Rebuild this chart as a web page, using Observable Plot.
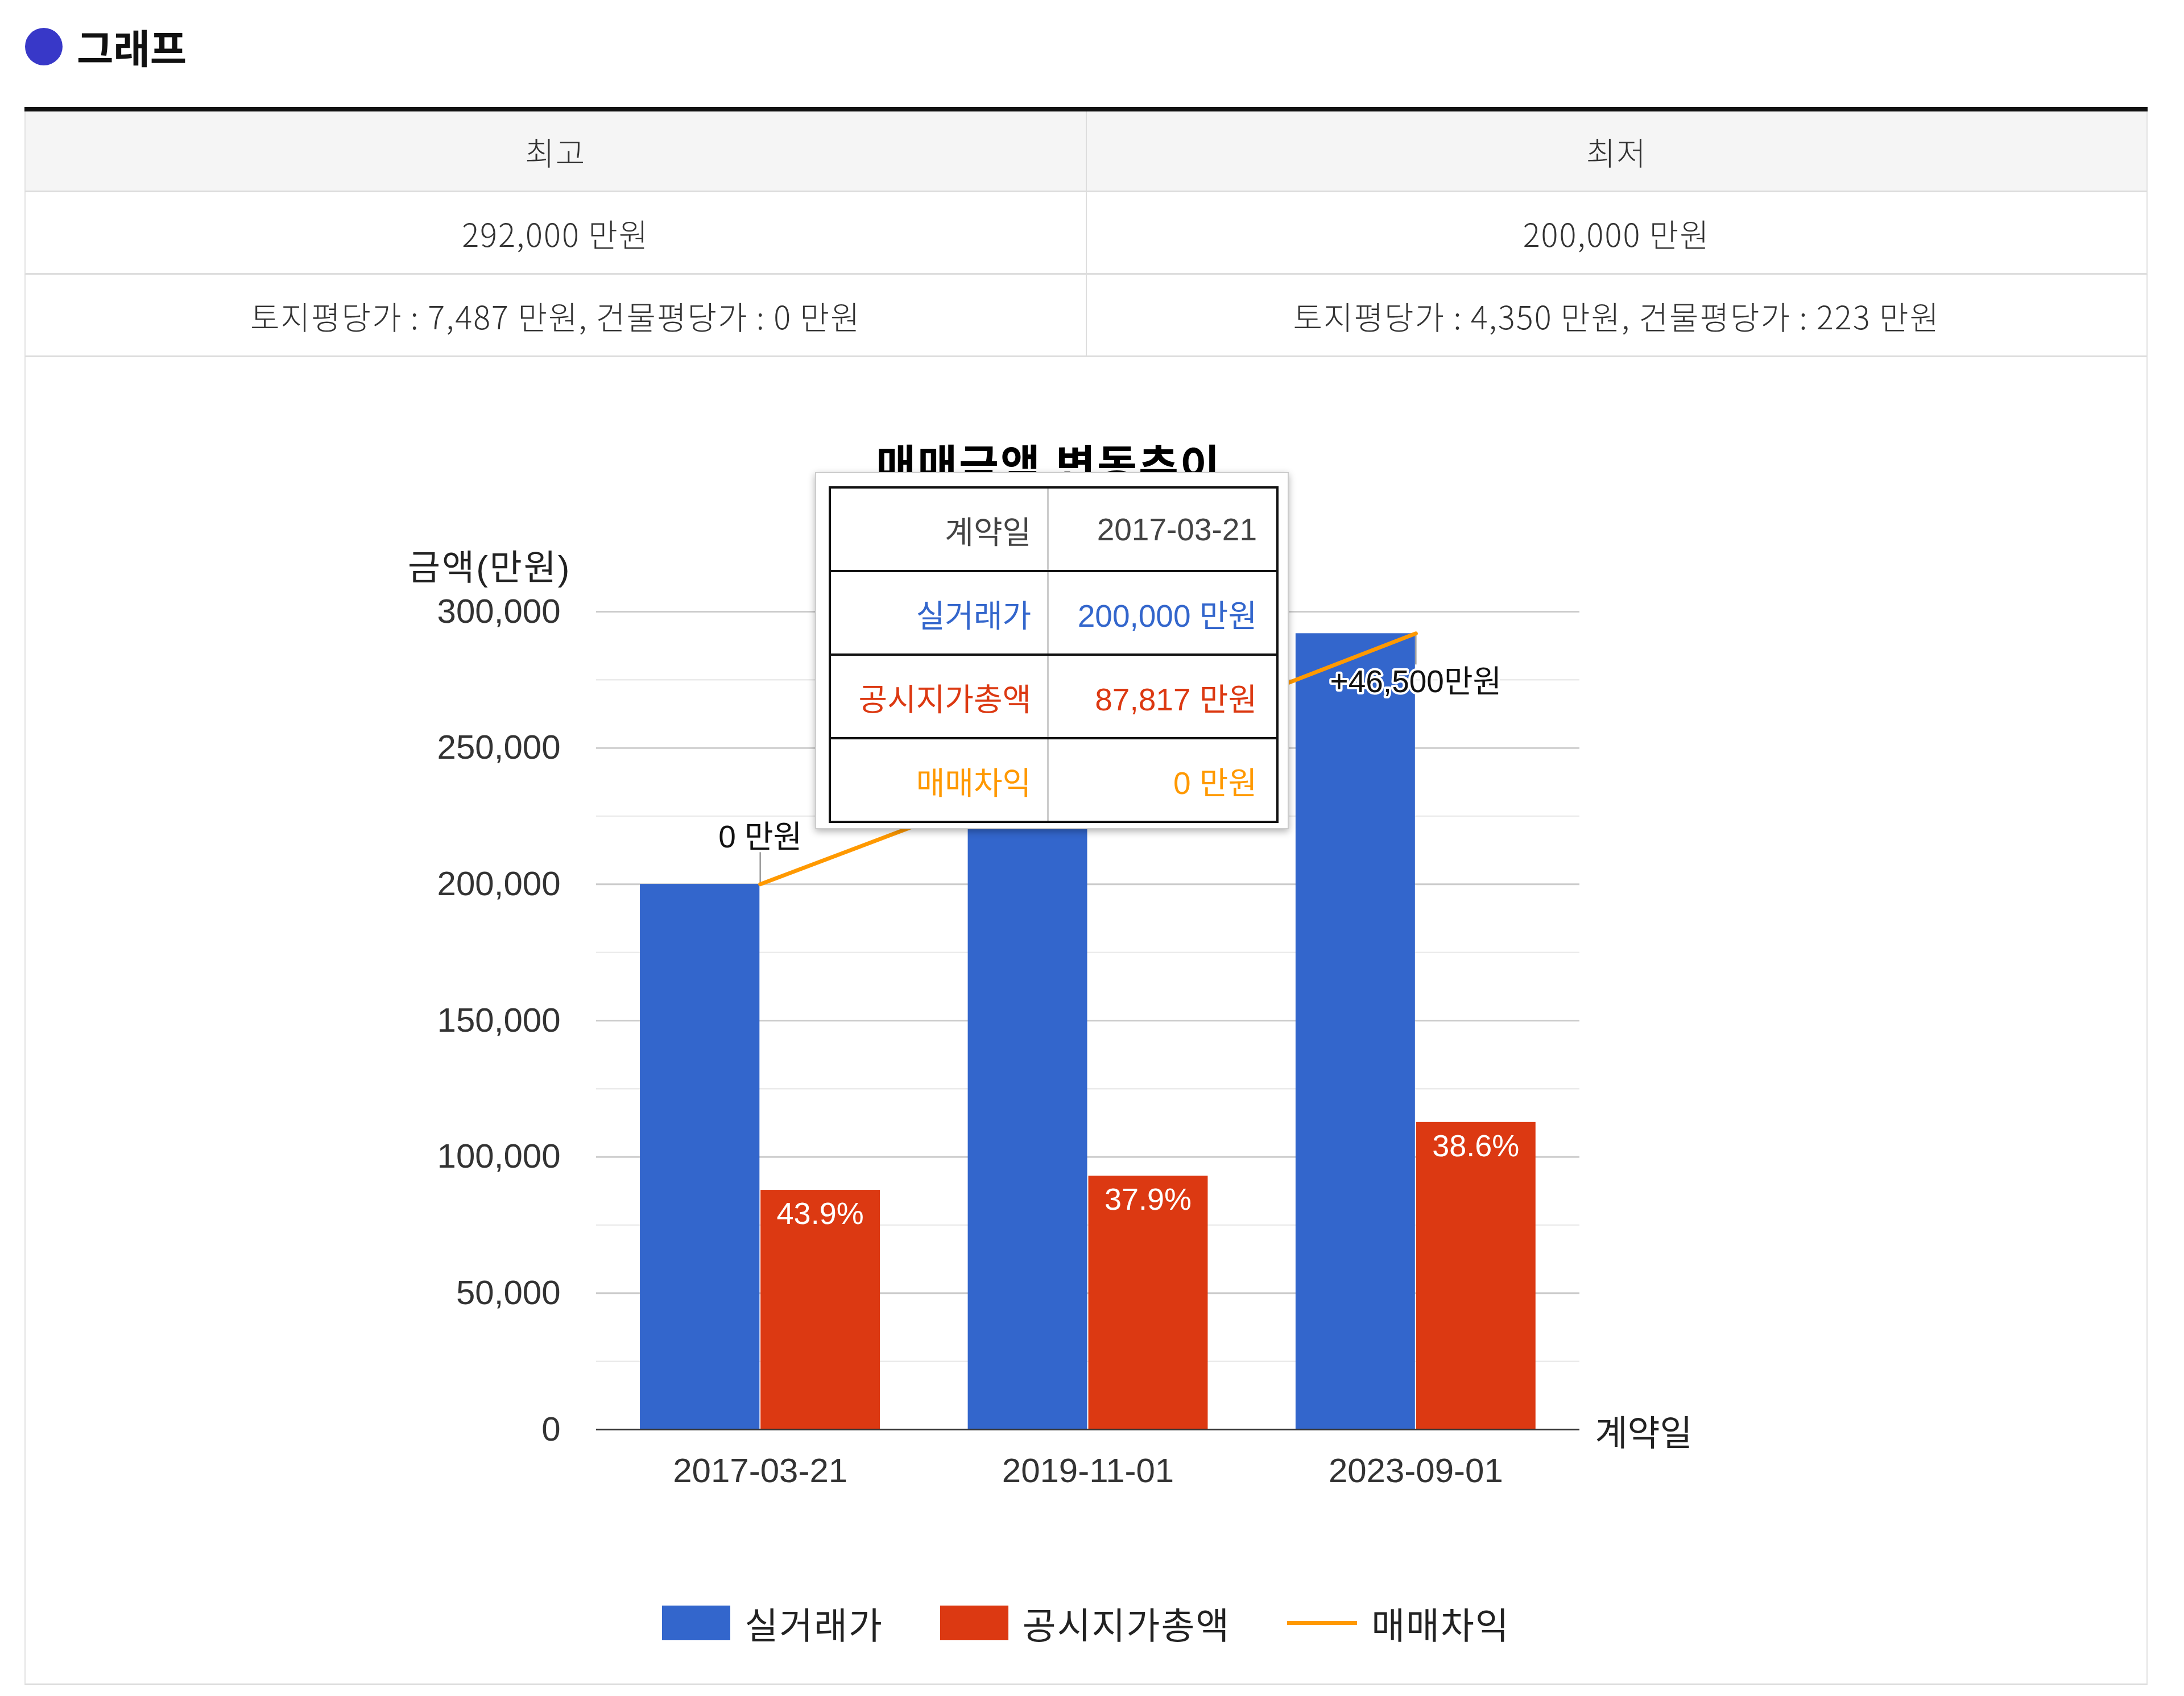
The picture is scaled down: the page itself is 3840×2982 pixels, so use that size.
<!DOCTYPE html>
<html><head><meta charset="utf-8">
<script src="https://cdn.jsdelivr.net/npm/d3@7"></script>
<script src="https://cdn.jsdelivr.net/npm/@observablehq/plot@0.6"></script>
<style>
html,body{margin:0;padding:0;background:#fff}
body{width:3840px;height:2982px;position:relative;overflow:hidden;font-family:"Noto Sans CJK KR","Noto Sans",sans-serif;color:#333}
.abs{position:absolute}
#dot{left:44px;top:49px;width:66px;height:66px;border-radius:50%;background:#3838c8}
#heading{left:135px;top:82px;transform:translateY(-50%);font-size:70px;font-weight:700;color:#111;line-height:1}
#summary{left:43px;top:188px;width:3733px;border-top:8px solid #111}
.srow{display:flex;border-bottom:3px solid #ddd;border-left:2px solid #e2e2e2;border-right:2px solid #e2e2e2}
.scell{flex:1;display:flex;align-items:center;justify-content:center;font-size:56px;letter-spacing:2px;color:#333;font-weight:300}
.scell+.scell{border-left:2px solid #ddd}
#chartbox{left:43px;top:627px;width:3729px;height:2333px;border-left:2px solid #e2e2e2;border-right:2px solid #e2e2e2;border-bottom:3px solid #ddd}
#chartTitle{left:1844px;top:820px;transform:translate(-50%,-50%);font-family:"Liberation Sans",Arial,"Noto Sans CJK KR",sans-serif;font-size:76px;letter-spacing:3px;font-weight:700;color:#000;white-space:nowrap;line-height:1}
#plot{left:43px;top:900px}
#legend{left:43px;top:2853px;width:3733px;transform:translateY(-50%);display:flex;justify-content:center;align-items:center;font-family:"Liberation Sans",Arial,"Noto Sans CJK KR",sans-serif;font-size:64px;letter-spacing:2px;color:#222}
.litem{display:flex;align-items:center;margin:0 50px}
.lsw{margin-right:25px}
#tooltip{left:1433px;top:830px;width:833px;height:628px;background:#fff;border:2px solid #ccc;box-shadow:0 4px 12px rgba(0,0,0,0.3);box-sizing:border-box}
#tooltip table{position:absolute;left:22px;top:23px;width:791px;height:592px;border-collapse:collapse;border:4px solid #111;font-family:"Liberation Sans",Arial,"Noto Sans CJK KR",sans-serif;font-size:55px}
#tooltip td{border-top:4px solid #111;border-bottom:4px solid #111;text-align:right;padding:0 28px 0 10px;white-space:nowrap}
#tooltip td+td{border-left:3px solid #ccc;padding-right:34px}
</style></head><body>
<script>
// ---------- data ----------
const dates = ["2017-03-21", "2019-11-01", "2023-09-01"];
const prices = [200000, 245500, 292000];          // 실거래가 (만원)
const officialTotals = [87817, 93000, 112700];    // 공시지가총액 (만원)
const ratioLabels = ["43.9%", "37.9%", "38.6%"];
const gains = [0, 45500, 46500];                  // 매매차익 (만원)
const gainLabels = ["0 만원", "+45,500만원", "+46,500만원"];
const yTicks = [0, 50000, 100000, 150000, 200000, 250000, 300000];
const yMinorTicks = [25000, 75000, 125000, 175000, 225000, 275000];
const seriesNames = ["실거래가", "공시지가총액", "매매차익"];
const seriesColors = ["#3366cc", "#dc3912", "#ff9900"];
const summaryHeaders = ["최고", "최저"];
const summaryAmounts = ["292,000 만원", "200,000 만원"];
const summaryDetails = ["토지평당가 : 7,487 만원, 건물평당가 : 0 만원", "토지평당가 : 4,350 만원, 건물평당가 : 223 만원"];
const chartTitle = "매매금액 변동추이";
const yAxisTitle = "금액(만원)";
const xAxisTitle = "계약일";
const tooltipIndex = 0;   // hovered date: its tooltip covers the middle gain label
</script>
<div id="dot" class="abs"></div>
<div id="heading" class="abs">그래프</div>
<div id="summary" class="abs"></div>
<div id="chartbox" class="abs"></div>
<div id="chartTitle" class="abs"></div>
<div id="plot" class="abs"></div>
<div id="legend" class="abs"></div>
<div id="tooltip" class="abs"></div>
<script>
const fmt = d3.format(",");
// summary table
const summary = document.getElementById("summary");
const rowDefs = [[summaryHeaders, 139, "#f5f5f5"], [summaryAmounts, 142, "#fff"], [summaryDetails, 142, "#fff"]];
for (const [cells, h, bg] of rowDefs) {
  const r = document.createElement("div");
  r.className = "srow"; r.style.height = h + "px"; r.style.background = bg;
  for (const c of cells) { const el = document.createElement("div"); el.className = "scell"; el.textContent = c; r.appendChild(el); }
  summary.appendChild(r);
}
document.getElementById("chartTitle").textContent = chartTitle;

// chart
const rows = dates.map((d, i) => ({i, date: d, price: prices[i], official: officialTotals[i], ratio: ratioLabels[i], gain: gainLabels[i]}));
const visibleGain = rows.filter(d => d.i !== 1); // the middle label lies hidden under the tooltip
const half = 0.366;
const chart = Plot.plot({
  width: 3733, height: 1800,
  marginLeft: 1005, marginRight: 999, marginTop: 175, marginBottom: 187,
  style: {fontFamily: "'Liberation Sans', Arial, 'Noto Sans CJK KR', sans-serif", fontSize: "60px", color: "#333", background: "transparent", overflow: "visible"},
  x: {domain: [-0.5, 2.5], ticks: [0, 1, 2], tickFormat: i => dates[i], tickSize: 0, tickPadding: 50, label: null},
  y: {domain: [0, 300000], ticks: yTicks, tickFormat: fmt, tickSize: 0, tickPadding: 63, label: null},
  marks: [
    Plot.ruleY(yMinorTicks, {stroke: "#ebebeb", strokeWidth: 2.5}),
    Plot.ruleY(yTicks.filter(t => t > 0), {stroke: "#cccccc", strokeWidth: 3}),
    Plot.rect(rows.filter(d => d.i === tooltipIndex), {x1: d => d.i - half, x2: d => d.i, y1: 0, y2: "price", fill: seriesColors[0], insetRight: 1, ariaLabel: "focus-bar"}),
    Plot.rect(rows, {x1: d => d.i - half, x2: d => d.i, y1: 0, y2: "price", fill: seriesColors[0], insetRight: 1}),
    Plot.rect(rows, {x1: d => d.i, x2: d => d.i + half, y1: 0, y2: "official", fill: seriesColors[1], insetLeft: 1}),
    Plot.ruleY([0], {stroke: "#333", strokeWidth: 3}),
    Plot.text(rows, {x: d => d.i + half / 2, y: "official", text: "ratio", dy: 42, fill: "white", fontSize: 54}),
    Plot.ruleX(rows.filter(d => d.i < 2), {x: "i", y1: "price", y2: "price", stroke: "#999", strokeWidth: 2.5, insetBottom: 56}),
    Plot.ruleX(rows.filter(d => d.i === 2), {x: "i", y1: "price", y2: "price", stroke: "#999", strokeWidth: 2.5, insetTop: 55}),
    Plot.line(rows, {x: "i", y: "price", stroke: seriesColors[2], strokeWidth: 7}),
    Plot.text(visibleGain.filter(d => d.i < 2), {x: "i", y: "price", text: "gain", dy: -82, fill: "#111", fontSize: 55, stroke: "white", strokeWidth: 8}),
    Plot.text(visibleGain.filter(d => d.i === 2), {x: "i", y: "price", text: "gain", dy: 86, fill: "#111", fontSize: 55, stroke: "white", strokeWidth: 8}),
    Plot.text([yAxisTitle], {text: d => d, frameAnchor: "top-left", textAnchor: "end", dx: -44, dy: -100, fontSize: 62, fill: "#222"}),
    Plot.text([xAxisTitle], {text: d => d, frameAnchor: "bottom-right", textAnchor: "start", dx: 27, dy: 28, fontSize: 62, fill: "#222"})
  ]
});
document.getElementById("plot").appendChild(chart);
d3.select(chart).selectAll('g[aria-label="focus-bar"] rect').style("filter", "drop-shadow(-6px -3px 6px rgba(0,0,0,0.45))");
d3.select(chart).selectAll("text").filter(function() { return this.textContent === yAxisTitle; }).style("letter-spacing", "3px");

// legend
const legend = document.getElementById("legend");
seriesNames.forEach((name, k) => {
  const item = document.createElement("div"); item.className = "litem";
  const sw = document.createElement("div"); sw.className = "lsw";
  if (k < 2) { sw.style.width = "120px"; sw.style.height = "61px"; sw.style.background = seriesColors[k]; }
  else { sw.style.width = "123px"; sw.style.height = "7px"; sw.style.background = seriesColors[k]; }
  const t = document.createElement("span"); t.textContent = name;
  item.appendChild(sw); item.appendChild(t); legend.appendChild(item);
});

// tooltip (hover state on first date)
const tip = document.getElementById("tooltip");
const tipRows = [
  [xAxisTitle, dates[tooltipIndex], "#444"],
  [seriesNames[0], fmt(prices[tooltipIndex]) + " 만원", seriesColors[0]],
  [seriesNames[1], fmt(officialTotals[tooltipIndex]) + " 만원", seriesColors[1]],
  [seriesNames[2], fmt(gains[tooltipIndex]) + " 만원", seriesColors[2]]
];
const tbl = document.createElement("table");
for (const [a, b, c] of tipRows) {
  const tr = document.createElement("tr");
  const td1 = document.createElement("td"); td1.textContent = a; td1.style.color = c;
  const td2 = document.createElement("td"); td2.textContent = b; td2.style.color = c;
  tr.appendChild(td1); tr.appendChild(td2); tbl.appendChild(tr);
}
tip.appendChild(tbl);
</script>
</body></html>
